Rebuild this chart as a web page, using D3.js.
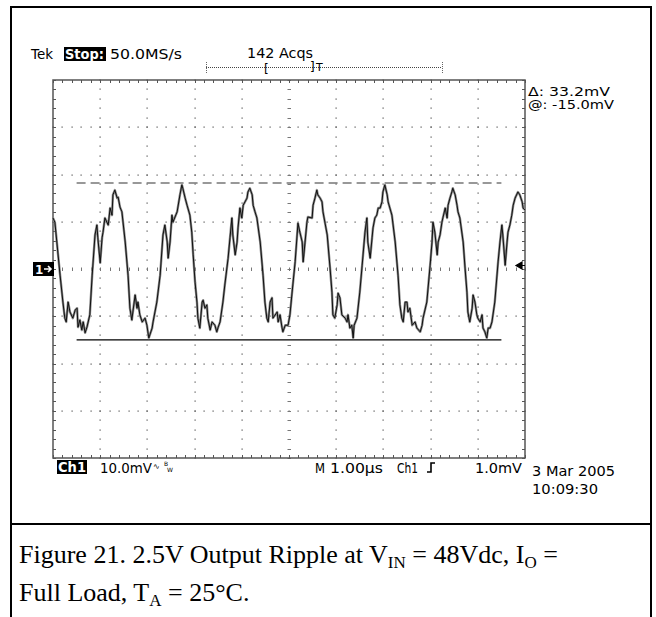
<!DOCTYPE html>
<html><head><meta charset="utf-8">
<script src="https://cdn.jsdelivr.net/npm/d3@7/dist/d3.min.js"></script>
<style>
html,body{margin:0;padding:0;background:#fff;}
svg{display:block;}
.tek{font-family:"DejaVu Sans",sans-serif;font-size:14px;fill:#000;}
.cap{font-family:"Liberation Serif","Times New Roman",serif;font-size:26px;fill:#000;}
</style></head>
<body>
<svg id="c" width="656" height="617"></svg>
<script>
// ---- data ----
const timeDomain = [0, 10];       // µs (1.00 µs/div, 10 div)
const voltDomain = [-40, 40];     // mV (10.0 mV/div, 8 div)
const cursorLevel = -15.0;        // mV  ("@")
const cursorDelta = 33.2;         // mV  ("Δ")
const cursorSpan = [0.5, 9.5];    // µs
const headerLabels = ["Tek", "Stop:", "50.0MS/s", "142 Acqs"];
const cursorLabels = ["\u0394: 33.2mV", "@: -15.0mV"];
const footerLabels = ["Ch1", "10.0mV", "M", "1.00\u00b5s", "Ch1", "1.0mV"];
const dateLabels = ["3 Mar 2005", "10:09:30"];
// trace samples: [time µs, mV]
const trace = [
[0,10.8],[0.04,9.9],[0.15,-1.3],[0.21,-7.0],[0.25,-10.4],[0.28,-11.2],[0.32,-7.0],[0.36,-9.1],[0.42,-10.4],[0.47,-8.7],
[0.51,-8.3],[0.53,-12.3],[0.57,-10.8],[0.61,-12.9],[0.64,-11.2],[0.68,-13.5],[0.72,-12.3],[0.78,-9.7],[0.83,-1.3],[0.89,7.2],
[0.93,9.3],[0.95,6.6],[1.00,1.3],[1.04,6.6],[1.06,7.8],[1.10,10.8],[1.17,9.3],[1.21,12.9],[1.25,11.4],[1.27,15.7],
[1.31,16.7],[1.36,15.0],[1.38,15.2],[1.42,13.1],[1.46,12.1],[1.53,5.7],[1.59,-1.3],[1.63,-8.3],[1.67,-10.8],[1.74,-5.5],
[1.78,-8.3],[1.80,-7.0],[1.84,-9.7],[1.89,-11.2],[1.95,-10.4],[1.99,-11.9],[2.01,-13.3],[2.03,-14.6],[2.10,-12.5],[2.12,-11.2],
[2.20,-7.0],[2.27,-1.3],[2.33,7.2],[2.37,9.3],[2.42,5.7],[2.44,2.3],[2.48,5.7],[2.52,11.4],[2.54,9.9],[2.63,12.1],
[2.69,15.7],[2.73,17.8],[2.75,17.1],[2.80,15.0],[2.84,13.5],[2.90,11.4],[2.94,7.8],[2.97,3.0],[3.01,-2.8],[3.05,-7.0],
[3.07,-10.4],[3.11,-12.5],[3.16,-7.0],[3.18,-6.6],[3.22,-8.3],[3.26,-7.6],[3.28,-10.4],[3.33,-12.9],[3.37,-11.2],[3.43,-11.9],
[3.47,-13.3],[3.50,-12.3],[3.54,-11.2],[3.60,-7.0],[3.64,-3.4],[3.71,2.3],[3.75,6.6],[3.79,10.8],[3.81,7.2],[3.86,3.0],
[3.90,5.7],[3.92,8.7],[3.96,12.9],[4.00,10.8],[4.03,13.5],[4.11,15.0],[4.13,16.3],[4.17,17.1],[4.22,15.7],[4.24,13.5],
[4.28,12.1],[4.32,10.8],[4.39,5.7],[4.45,-1.3],[4.49,-7.0],[4.53,-10.4],[4.56,-11.2],[4.60,-7.0],[4.64,-6.1],[4.66,-10.4],
[4.75,-9.1],[4.77,-11.2],[4.81,-9.7],[4.85,-12.3],[4.87,-13.3],[4.92,-11.9],[4.98,-11.9],[5.02,-9.7],[5.06,-5.5],[5.13,1.5],
[5.19,9.7],[5.23,7.8],[5.28,5.7],[5.30,1.5],[5.34,5.7],[5.38,9.9],[5.40,11.0],[5.49,10.8],[5.51,13.5],[5.55,15.0],
[5.59,16.7],[5.61,15.7],[5.66,15.0],[5.70,14.2],[5.72,12.1],[5.81,7.2],[5.87,0.2],[5.91,-4.9],[5.93,-9.7],[5.97,-10.4],
[6.02,-7.6],[6.04,-5.1],[6.08,-6.1],[6.12,-9.7],[6.19,-10.4],[6.23,-11.2],[6.25,-9.7],[6.29,-12.5],[6.33,-11.9],[6.36,-14.6],
[6.38,-11.9],[6.44,-10.4],[6.50,-4.9],[6.55,0.8],[6.61,7.8],[6.65,10.8],[6.67,5.7],[6.72,2.3],[6.76,6.6],[6.78,8.7],
[6.82,10.8],[6.86,11.4],[6.89,12.9],[6.93,12.9],[6.97,14.2],[6.99,16.3],[7.03,17.8],[7.08,15.7],[7.10,14.2],[7.18,11.4],
[7.25,5.7],[7.31,-1.3],[7.35,-7.6],[7.39,-10.4],[7.42,-11.2],[7.46,-7.0],[7.50,-7.0],[7.52,-9.1],[7.56,-8.3],[7.61,-11.9],
[7.67,-11.2],[7.71,-12.5],[7.78,-13.3],[7.82,-11.9],[7.84,-10.4],[7.92,-7.0],[7.99,0.8],[8.03,5.7],[8.05,9.9],[8.09,7.8],
[8.14,3.0],[8.16,5.7],[8.20,7.2],[8.24,9.9],[8.26,10.8],[8.31,12.9],[8.35,10.8],[8.37,13.5],[8.41,15.0],[8.45,16.3],
[8.47,17.1],[8.52,15.7],[8.56,13.5],[8.58,12.1],[8.62,10.8],[8.69,5.7],[8.73,0.2],[8.77,-4.9],[8.79,-9.1],[8.83,-11.2],
[8.88,-8.3],[8.90,-5.5],[8.94,-7.0],[8.98,-9.7],[9.00,-10.4],[9.05,-11.2],[9.09,-9.7],[9.11,-12.5],[9.15,-13.3],[9.19,-14.6],
[9.22,-12.5],[9.26,-12.5],[9.30,-11.2],[9.36,-7.0],[9.43,1.5],[9.47,5.7],[9.51,9.3],[9.53,7.2],[9.58,0.8],[9.62,5.7],
[9.64,7.8],[9.68,9.3],[9.72,11.4],[9.75,13.5],[9.79,15.0],[9.85,16.3],[9.89,15.7],[9.94,14.2],[9.96,12.9],[10.0,12.5]
];

// ---- layout ----
const svg = d3.select("#c");
const L = 53, R = 525, T = 80, B = 458;
const x = d3.scaleLinear().domain(timeDomain).range([L, R]);
const y = d3.scaleLinear().domain(voltDomain).range([B, T]);

// outer page frame
svg.append("path").attr("d", `M11,617 V7 H651 V617`).attr("fill","none").attr("stroke","#000").attr("stroke-width",2);
svg.append("line").attr("x1",11).attr("x2",651).attr("y1",524).attr("y2",524).attr("stroke","#000").attr("stroke-width",2);

const g = svg.append("g");
const gridCol = "#555";
const majorX = d3.range(timeDomain[0], timeDomain[1] + 1e-9, 1);
const minorX = d3.range(timeDomain[0], timeDomain[1] + 1e-9, 0.2);
const majorY = d3.range(voltDomain[0], voltDomain[1] + 1e-9, 10);
const minorY = d3.range(voltDomain[0], voltDomain[1] + 1e-9, 2);
const dot = (px, py) => g.append("rect").attr("x", Math.round(px) - 0.5).attr("y", Math.round(py) - 0.5).attr("width",1.2).attr("height",1.2).attr("fill",gridCol);

// dotted graticule
majorX.slice(1, -1).forEach(t => {
  if (Math.abs(t - 5) < 1e-9) return;
  minorY.forEach(v => dot(x(t), y(v)));
});
majorY.slice(1, -1).forEach(v => {
  if (Math.abs(v) < 1e-9) return;
  minorX.forEach(t => dot(x(t), y(v)));
});
// center crosshair ticks
minorY.forEach(v => g.append("line").attr("x1", x(5) - 1.5).attr("x2", x(5) + 2).attr("y1", Math.round(y(v)) + 0.5).attr("y2", Math.round(y(v)) + 0.5).attr("stroke", "#777").attr("stroke-width",1));
minorX.forEach(t => g.append("line").attr("y1", y(0) - 1.5).attr("y2", y(0) + 2).attr("x1", Math.round(x(t)) + 0.5).attr("x2", Math.round(x(t)) + 0.5).attr("stroke", "#777").attr("stroke-width",1));
// edge ticks
minorX.forEach(t => {
  g.append("line").attr("x1", Math.round(x(t)) + 0.5).attr("x2", Math.round(x(t)) + 0.5).attr("y1", T).attr("y2", T + 3).attr("stroke", gridCol);
  g.append("line").attr("x1", Math.round(x(t)) + 0.5).attr("x2", Math.round(x(t)) + 0.5).attr("y1", B).attr("y2", B - 3).attr("stroke", gridCol);
});
minorY.forEach(v => {
  g.append("line").attr("y1", Math.round(y(v)) + 0.5).attr("y2", Math.round(y(v)) + 0.5).attr("x1", L).attr("x2", L + 3).attr("stroke", gridCol);
  g.append("line").attr("y1", Math.round(y(v)) + 0.5).attr("y2", Math.round(y(v)) + 0.5).attr("x1", R).attr("x2", R - 3).attr("stroke", gridCol);
});
// graticule frame
g.append("rect").attr("x", L).attr("y", T).attr("width", R - L).attr("height", B - T).attr("fill","none").attr("stroke","#555").attr("stroke-width",1.5);

// cursors
g.append("line").attr("x1", x(cursorSpan[0])).attr("x2", x(cursorSpan[1]))
  .attr("y1", y(cursorLevel + cursorDelta)).attr("y2", y(cursorLevel + cursorDelta))
  .attr("stroke","#777").attr("stroke-width",1.6).attr("stroke-dasharray","9,5");
g.append("line").attr("x1", x(cursorSpan[0])).attr("x2", x(cursorSpan[1]))
  .attr("y1", y(cursorLevel)).attr("y2", y(cursorLevel))
  .attr("stroke","#000").attr("stroke-width",1.4);

// trace
const line = d3.line().x(d => x(d[0])).y(d => y(d[1]));
g.append("path").datum(trace).attr("d", line).attr("fill","none").attr("stroke","#8a8a8a").attr("stroke-width",2.4).attr("stroke-linejoin","round");
g.append("path").datum(trace).attr("d", line).attr("fill","none").attr("stroke","#111").attr("stroke-width",1).attr("stroke-linejoin","round");

// text helper (w = width)
const tx = (s, xx, yy, w, extra) => {
  const e = svg.append("text").attr("class", "tek").attr("x", xx).attr("y", yy).text(s);
  if (w) e.attr("textLength", w).attr("lengthAdjust", "spacingAndGlyphs");
  if (extra) extra(e);
  return e;
};
// header
tx(headerLabels[0], 31, 59, 22);
svg.append("rect").attr("x", 64).attr("y", 47).attr("width", 42).attr("height", 14).attr("fill","#000");
tx(headerLabels[1], 65, 59, 39, e => e.style("fill","#fff").style("font-weight","bold"));
tx(headerLabels[2], 110, 59, 72);
tx(headerLabels[3], 247, 58, 66);
// trigger position bar
svg.append("line").attr("x1",206).attr("x2",442).attr("y1",67.5).attr("y2",67.5).attr("stroke","#444").attr("stroke-dasharray","1,1");
[206, 442].forEach(xx => svg.append("line").attr("x1", xx + 0.5).attr("x2", xx + 0.5).attr("y1", 62).attr("y2", 74).attr("stroke","#666").attr("stroke-dasharray","1,1"));
tx("[", 264, 73, null, e => e.style("font-size","12px"));
tx("]", 310, 71, null, e => e.style("font-size","12px"));
tx("T", 316, 71, null, e => e.style("font-size","11px"));

// cursor readouts
tx(cursorLabels[0], 528, 96, 82, e => e.style("font-size","12px"));
tx(cursorLabels[1], 528, 109, 86, e => e.style("font-size","12px"));

// channel markers
svg.append("rect").attr("x", 33).attr("y", 262).attr("width", 21).attr("height", 14).attr("fill","#000");
tx("1", 35, 274, null, e => e.style("fill","#fff").style("font-weight","bold").style("font-size","12px"));
svg.append("path").attr("d","M44,269 H51 M48,266 L51,269 L48,272").attr("stroke","#fff").attr("stroke-width",1.6).attr("fill","none");
svg.append("path").attr("d", `M${R - 9},265.5 L${R - 3},262 L${R - 3},269 Z M${R - 3},265.5 H${R}`).attr("fill","#000").attr("stroke","#000").attr("stroke-width",1.2);

// footer
svg.append("rect").attr("x", 57).attr("y", 460).attr("width", 30).attr("height", 14).attr("fill","#000");
tx(footerLabels[0], 58, 472, 28, e => e.style("fill","#fff").style("font-weight","bold"));
tx(footerLabels[1], 100, 473, 52);
tx("\u223f", 153, 469, null, e => e.style("font-size","8px"));
tx("B", 164, 466, null, e => e.style("font-size","6px"));
tx("W", 167, 472, null, e => e.style("font-size","6px"));
tx(footerLabels[2], 315, 473, 10);
tx(footerLabels[3], 330, 473, 53);
tx(footerLabels[4], 397, 473, 21);
svg.append("path").attr("d","M427,472 H431 V463 H435").attr("stroke","#000").attr("stroke-width",1.6).attr("fill","none");
tx(footerLabels[5], 475, 473, 47);
tx(dateLabels[0], 532, 476, 83);
tx(dateLabels[1], 532, 494, 66);

// caption
const c1 = svg.append("text").attr("class","cap").attr("x", 19).attr("y", 563);
c1.append("tspan").text("Figure 21. 2.5V Output Ripple at V");
c1.append("tspan").attr("dy", 5).style("font-size","17px").text("IN");
c1.append("tspan").attr("dy", -5).text(" = 48Vdc, I");
c1.append("tspan").attr("dy", 5).style("font-size","17px").text("O");
c1.append("tspan").attr("dy", -5).text(" =");
const c2 = svg.append("text").attr("class","cap").attr("x", 19).attr("y", 601);
c2.append("tspan").text("Full Load, T");
c2.append("tspan").attr("dy", 5).style("font-size","17px").text("A");
c2.append("tspan").attr("dy", -5).text(" = 25\u00b0C.");
</script>
</body></html>
